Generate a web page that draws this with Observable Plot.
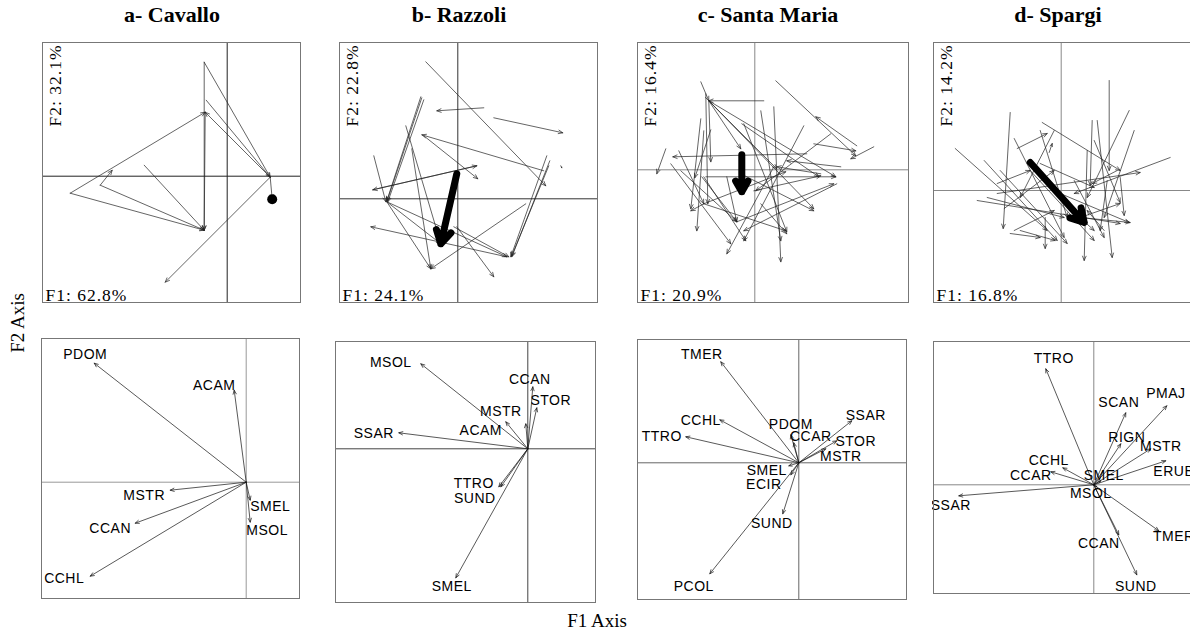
<!DOCTYPE html>
<html><head><meta charset="utf-8">
<script src="https://cdn.jsdelivr.net/npm/d3@7"></script>
<script src="https://cdn.jsdelivr.net/npm/@observablehq/plot@0.6"></script>
<style>
body{margin:0;background:#fff}
#wrap{position:relative;width:1190px;height:633px;overflow:hidden;background:#fff}
.ttl{position:absolute;font-family:"Liberation Serif",serif;font-weight:bold;font-size:22px;text-align:center;width:240px;line-height:24px;color:#000}
.axt{position:absolute;font-family:"Liberation Serif",serif;font-size:19px;color:#000;line-height:20px;white-space:nowrap}
.lbl text{letter-spacing:0.5px}
.pct text{letter-spacing:1px}
</style>
</head><body><div id="wrap"></div>
<script>
// ---------------- DATA ----------------
const islands = ["a- Cavallo", "b- Razzoli", "c- Santa Maria", "d- Spargi"];
const f1Inertia = ["F1: 62.8%", "F1: 24.1%", "F1: 20.9%", "F1: 16.8%"];
const f2Inertia = ["F2: 32.1%", "F2: 22.8%", "F2: 16.4%", "F2: 14.2%"];

// trajectories: [F1 start, F2 start, F1 end, F2 end]
const cavalloTraj = [
  [-23,114,43,-1],[-21,76,43,-1],[43,-1,-22,64],[43,-1,-62,-106],[-157,-17,-22,64],
  [-157,-17,-23,-54],[-127,-9,-23,-54],[-127,-9,-115,6],[-83,11,-23,-54],[-23,114,-23,-54],
  [-22,64,-23,-54],[43,-1,45,-23]
];
const cavalloStart = [[45,-23]];

const razzoliTraj = [
  [-32,137,88,13],[26,91,-21,88],[36,81,105,66],[-37,102,-71,-2],[-36,101,-71,-3],[-34,99,-70,-3],
  [86,28,-36,64],[-34,63,20,20],[19,33,-85,9],[-84,43,-72,-3],[-52,73,-17,-45],[-46,50,-27,-70],
  [-71,-3,49,-58],[89,43,53,-58],[92,38,54,-58],[91,33,54,-57],[68,-5,-27,-70],[-1,-28,36,-78],
  [-71,-3,-27,-70],[49,-58,-87,-28],[-71,-3,-17,-45],[-4,-28,51,-58],[-85,9,19,33],[103,33,104,31]
];
const razzoliMean = [[-1,25,-17,-45]];

const santaMariaTraj = [
  [9,69,-46,69],[-54,88,-46,69],[-49,76,-47,-34],[-46,69,-14,21],[-46,69,59,-39],[-46,69,81,-7],
  [-46,69,-44,8],[-46,69,22,1],[21,89,101,14],[102,24,61,53],[59,26,101,19],[119,23,96,11],
  [-89,21,-98,-4],[52,16,-82,13],[-76,19,-51,-34],[-84,6,-24,-74],[-54,51,-64,-39],[-51,39,-58,-61],
  [-49,-7,81,-7],[-51,-34,31,-2],[-11,46,32,-62],[-13,46,64,-7],[6,59,26,-71],[19,63,26,-92],
  [76,36,1,-21],[49,44,-11,-71],[-1,-21,66,-6],[-51,-7,-9,-71],[-28,-7,-18,-52],[19,3,-28,-84],
  [-18,-52,79,-14],[-74,-1,-18,-52],[-51,-34,-64,-41],[6,-34,32,-64],[66,-4,22,3],[86,3,32,9],
  [-14,-4,59,-41],[-51,-34,31,-61],[82,-14,-11,-61],[-53,-7,-18,-52],[-44,40,-60,-8]
];
const santaMariaMean = [[-13,15,-13,-22]];

const spargiTraj = [
  [-51,78,-58,-38],[-106,42,-14,-40],[-19,68,59,20],[-47,52,3,-47],[48,110,48,20],[68,80,26,-7],
  [73,60,43,-27],[31,70,29,5],[36,70,51,-67],[109,33,13,-3],[-64,-3,79,18],[-84,-10,59,-33],
  [-57,-18,-7,20],[-44,42,-14,57],[-12,38,-9,47],[-31,20,33,-50],[-77,30,-4,-50],[-61,20,6,-53],
  [-1,-3,68,-32],[-51,-43,-21,-47],[-47,-40,-7,-20],[-16,-27,-16,-58],[19,-27,59,-13],[33,50,59,-12],
  [26,40,23,-70],[-21,27,33,3],[56,20,31,7],[43,-40,26,-20],[-7,60,-41,-7],[3,-13,33,-40],
  [59,13,63,-25],[13,10,43,-47],[-41,-40,-6,-50],[46,10,39,-40],[-64,7,-31,20],[-74,-7,3,-27],
  [-21,60,6,-27],[19,-27,69,-32]
];
const spargiMean = [[-31,28,23,-32]];

// species vectors (F1, F2 loadings)
const cavalloVars = ["PDOM","ACAM","MSTR","CCAN","CCHL","SMEL","MSOL"];
const cavalloF1 = [-152,-12,-76,-111,-156,4,4];
const cavalloF2 = [119,92,-8,-41,-94,-18,-40];

const razzoliVars = ["MSOL","CCAN","STOR","MSTR","ACAM","SSAR","TTRO","SUND","SMEL"];
const razzoliF1 = [-107,5,9,-22,-2,-129,-29,-27,-72];
const razzoliF2 = [85,62,41,27,25,16,-38,-38,-129];

const santaMariaVars = ["TMER","CCHL","TTRO","PDOM","CCAR","SSAR","STOR","MSTR","SMEL","ECIR","SUND","PCOL"];
const santaMariaF1 = [-78,-79,-113,-8,-5,53,38,27,-10,-8,-16,-89];
const santaMariaF2 = [101,43,26,28,20,42,22,14,-3,-12,-51,-111];

const spargiVars = ["TTRO","SCAN","PMAJ","RIGN","MSTR","ERUB","CCHL","CCAR","SMEL","MSOL","SSAR","TMER","CCAN","SUND"];
const spargiF1 = [-48,32,73,27,57,72,-31,-43,7,3,-135,65,25,43];
const spargiF2 = [116,72,79,41,36,24,17,13,4,-2,-11,-46,-50,-90];

// ---------------- LAYOUT ----------------
const topBoxes = [
  {left:42, top:42, w:258, h:260, ox:226.7, oy:175.7, axis:"#222"},
  {left:339, top:42, w:258, h:260, ox:457.3, oy:198.3, axis:"#333"},
  {left:637, top:42, w:271, h:260, ox:754.3, oy:169.3, axis:"#888"},
  {left:933, top:42, w:262, h:260, ox:1060.7, oy:190, axis:"#888"}
];
const bottomBoxes = [
  {left:41, top:338, w:258, h:260, ox:245.7, oy:481.7, axis:"#999"},
  {left:335, top:341, w:260, h:261, ox:527.3, oy:448.3, axis:"#444"},
  {left:637, top:339, w:269, h:260, ox:798.3, oy:462.3, axis:"#666"},
  {left:933, top:341, w:262, h:252, ox:1093.3, oy:484.3, axis:"#888"}
];
const titleCenters = [172, 459, 768, 1058];
const labelNudges = [
  [[-9,-9],[-20,-5],[-26,5],[-25,5],[-26,2],[20,6],[17,8]],
  [[-30,-1],[-3,-7],[14,-7],[-5,-10],[-45,7],[-25,1],[-25,-3],[-26,12],[-4,9]],
  [[-19,-7],[-19,1],[-24,0],[0,-10],[17,-6],[14,-5],[19,1],[15,8],[-22,5],[-27,10],[-11,10],[-16,13]],
  [[8,-10],[-7,-10],[-1,-12],[6,-6],[10,-2],[8,11],[-14,-7],[-20,4],[3,-5],[-6,7],[-8,10],[15,6],[-20,9],[-1,12]]
];

const wrap = document.getElementById("wrap");

function place(chart, box) {
  chart.style.position = "absolute";
  chart.style.left = (box.left - 1) + "px";
  chart.style.top = (box.top - 1) + "px";
  chart.style.maxWidth = "none";
  wrap.appendChild(chart);
}
function scalesFor(box) {
  return {
    x: {domain: [box.left - box.ox, box.left + box.w - box.ox], axis: null},
    y: {domain: [box.oy - (box.top + box.h), box.oy - box.top], axis: null}
  };
}

const trajs = [cavalloTraj, razzoliTraj, santaMariaTraj, spargiTraj];
const means = [null, razzoliMean, santaMariaMean, spargiMean];

trajs.forEach((traj, k) => {
  const box = topBoxes[k];
  const marks = [
    Plot.ruleX([0], {stroke: box.axis, strokeWidth: 1}),
    Plot.ruleY([0], {stroke: box.axis, strokeWidth: 1}),
    Plot.arrow(traj, {x1: d => d[0], y1: d => d[1], x2: d => d[2], y2: d => d[3],
      stroke: "#222", strokeWidth: 0.7, headLength: 10, headAngle: 45})
  ];
  if (means[k]) marks.push(Plot.arrow(means[k], {x1: d => d[0], y1: d => d[1], x2: d => d[2], y2: d => d[3],
      stroke: "#000", strokeWidth: 7, headLength: 3.2, headAngle: 60}));
  if (k === 0) marks.push(Plot.dot(cavalloStart, {x: d => d[0], y: d => d[1], r: 5, fill: "#000"}));
  marks.push(
    Plot.text([f2Inertia[k]], {text: d => d, frameAnchor: "top-left", rotate: -90, textAnchor: "end",
      lineAnchor: "middle", dx: 13, dy: 2, fontFamily: "Liberation Serif", fontSize: 17.5, fill: "#000", className: "pct"}),
    Plot.text([f1Inertia[k]], {text: d => d, frameAnchor: "bottom-left", textAnchor: "start",
      lineAnchor: "bottom", dx: 3, dy: -2, fontFamily: "Liberation Serif", fontSize: 17.5, fill: "#000", className: "pct"}),
    Plot.frame({stroke: "#777", strokeWidth: 1})
  );
  const chart = Plot.plot({width: box.w + 2, height: box.h + 2, margin: 1, ...scalesFor(box), marks});
  place(chart, box);
});

const vars = [
  [cavalloVars, cavalloF1, cavalloF2],
  [razzoliVars, razzoliF1, razzoliF2],
  [santaMariaVars, santaMariaF1, santaMariaF2],
  [spargiVars, spargiF1, spargiF2]
];
vars.forEach(([names, f1, f2], k) => {
  const box = bottomBoxes[k];
  const nudge = labelNudges[k];
  const chart = Plot.plot({
    width: box.w + 2, height: box.h + 2, margin: 1, ...scalesFor(box),
    marks: [
      Plot.ruleX([0], {stroke: box.axis, strokeWidth: 1}),
      Plot.ruleY([0], {stroke: box.axis, strokeWidth: 1}),
      Plot.arrow(names, {x1: 0, y1: 0, x2: (d, i) => f1[i], y2: (d, i) => f2[i],
        stroke: "#111", strokeWidth: 0.7, headLength: 9, headAngle: 45}),
      Plot.text(names, {x: (d, i) => f1[i] + nudge[i][0], y: (d, i) => f2[i] - nudge[i][1], text: d => d,
        fontFamily: "Liberation Sans", fontSize: 14, fill: "#000", className: "lbl"}),
      Plot.frame({stroke: "#777", strokeWidth: 1})
    ]
  });
  place(chart, box);
});

islands.forEach((t, k) => {
  const d = document.createElement("div");
  d.className = "ttl";
  d.textContent = t;
  d.style.left = (titleCenters[k] - 120) + "px";
  d.style.top = "3px";
  wrap.appendChild(d);
});
const ax1 = document.createElement("div");
ax1.className = "axt"; ax1.textContent = "F1 Axis";
ax1.style.left = "547px"; ax1.style.top = "611px"; ax1.style.width = "100px"; ax1.style.textAlign = "center";
wrap.appendChild(ax1);
const ax2 = document.createElement("div");
ax2.className = "axt"; ax2.textContent = "F2 Axis";
ax2.style.left = "-32px"; ax2.style.top = "313px"; ax2.style.width = "100px"; ax2.style.textAlign = "center";
ax2.style.transform = "rotate(-90deg)";
wrap.appendChild(ax2);
</script>
</body></html>
